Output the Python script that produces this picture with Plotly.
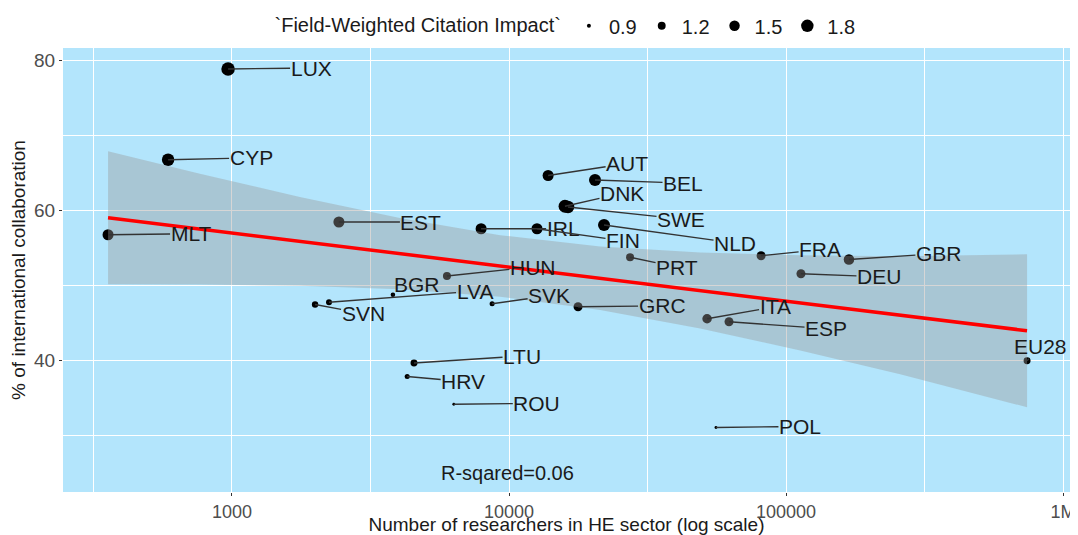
import numpy as np
import plotly.graph_objects as go

# ---------------- data ----------------
countries = ["LUX", "CYP", "MLT", "EST", "AUT", "BEL", "DNK", "SWE", "IRL", "FIN",
             "NLD", "PRT", "FRA", "GBR", "DEU", "ITA", "ESP", "EU28", "HUN", "BGR",
             "LVA", "SVN", "SVK", "GRC", "LTU", "HRV", "ROU", "POL"]
researchers = [968, 588, 357, 2432, 13840, 20440, 15920, 16330, 7930, 12620,
               22030, 27350, 81280, 168700, 113200, 51880, 62250, 741300, 5970, 3810,
               2240, 1995, 8690, 17750, 4540, 4290, 6320, 55850]
intl_collab = [78.9, 66.8, 56.8, 58.5, 64.7, 64.1, 60.6, 60.5, 57.6, 57.6,
               58.1, 53.8, 54.0, 53.5, 51.6, 45.6, 45.2, 40.0, 51.3, 48.8,
               47.8, 47.5, 47.6, 47.2, 39.7, 37.9, 34.2, 31.1]
fwci = [1.97, 1.80, 1.58, 1.58, 1.58, 1.73, 1.85, 1.80, 1.58, 1.58,
        1.73, 1.21, 1.32, 1.51, 1.32, 1.38, 1.32, 1.11, 1.21, 0.93,
        1.03, 1.06, 0.96, 1.32, 1.11, 0.96, 0.85, 0.85]

# linear fit (on log scale) and its confidence band
fit_x = [357, 766, 1758, 4036, 9290, 21330, 48980, 112500, 258200, 741300]
fit_y = [59.07, 57.56, 55.92, 54.28, 52.64, 51.00, 49.36, 47.72, 46.08, 44.00]
band_hi = [67.94, 64.95, 61.85, 59.04, 56.75, 55.23, 54.43, 54.07, 53.95, 54.20]
band_lo = [50.20, 50.17, 49.99, 49.52, 48.53, 46.77, 44.29, 41.37, 38.21, 33.80]

legend_levels = [0.9, 1.2, 1.5, 1.8]
x_tick_vals = [1000, 10000, 100000, 1000000]
x_tick_text = ["1000", "10000", "100000", "1M"]
y_tick_vals = [40, 60, 80]
r_squared_text = "R-sqared=0.06"

# ---------------- style / layout ----------------
PANEL_BG = "#B3E5FC"
FONT = "Liberation Sans, Arial, sans-serif"
LABEL_OFFSETS = {  # pixel offsets of repelled labels from their points
    "LUX": (83, -1), "CYP": (83, -2), "MLT": (83, -1), "EST": (82, 0),
    "AUT": (79, -12), "BEL": (88, 3), "DNK": (57, -13), "SWE": (113, 12),
    "IRL": (82, 0), "FIN": (86, 12), "NLD": (131, 18), "PRT": (47, 10),
    "FRA": (59, -6), "GBR": (90, -6), "DEU": (78, 3), "ITA": (68, -12),
    "ESP": (97, 7), "EU28": (13, -14), "HUN": (86, -9), "BGR": (24, -10),
    "LVA": (146, -11), "SVN": (48, 9), "SVK": (57, -8), "GRC": (84, -1),
    "LTU": (108, -7), "HRV": (56, 5), "ROU": (83, -1), "POL": (84, -1),
}
RSQ_POS = (9900, 25.1)
PAGE_OFFSET = 8  # default body margin of the html page


def size_px(f):
    """area-proportional size scale (like ggplot scale_size)"""
    f = np.asarray(f, dtype=float)
    return np.sqrt(np.clip(16 + 155 * (f - 0.9), 4, None))


fig = go.Figure()

# points (drawn first so the ribbon greys the ones beneath it)
fig.add_trace(go.Scatter(
    x=researchers, y=intl_collab, mode="markers",
    marker=dict(color="black", size=size_px(fwci), opacity=1, line=dict(width=0)),
    text=countries, showlegend=False, hoverinfo="text+x+y"))

# confidence ribbon
fig.add_trace(go.Scatter(
    x=fit_x + fit_x[::-1], y=band_hi + band_lo[::-1],
    mode="lines", fill="toself", fillcolor="rgba(153,153,153,0.4)",
    line=dict(width=0), showlegend=False, hoverinfo="skip"))

# regression line
fig.add_trace(go.Scatter(
    x=fit_x, y=fit_y, mode="lines",
    line=dict(color="#FF0000", width=3.5), showlegend=False, hoverinfo="skip"))

# size legend entries
for lv in legend_levels:
    fig.add_trace(go.Scatter(
        x=[None], y=[None], mode="markers", name=f"{lv}",
        marker=dict(color="black", size=float(size_px(lv)), opacity=1),
        showlegend=True))

# repelled labels with segments
for c, xv, yv in zip(countries, researchers, intl_collab):
    dx, dy = LABEL_OFFSETS[c]
    fig.add_annotation(
        x=np.log10(xv), y=yv, xref="x", yref="y", text=c,
        showarrow=True, ax=dx, ay=dy, arrowhead=0, arrowwidth=1.3,
        arrowcolor="#333333", standoff=0, startstandoff=0,
        font=dict(family=FONT, size=21, color="#1a1a1a"), borderpad=0)

fig.add_annotation(
    x=np.log10(RSQ_POS[0]), y=RSQ_POS[1], xref="x", yref="y",
    text=r_squared_text, showarrow=False,
    font=dict(family=FONT, size=20, color="#1a1a1a"))

fig.update_layout(
    width=1078 - PAGE_OFFSET, height=535 - PAGE_OFFSET,
    margin=dict(l=63 - PAGE_OFFSET, r=8, t=48 - PAGE_OFFSET, b=43, autoexpand=False),
    paper_bgcolor="white", plot_bgcolor=PANEL_BG,
    font=dict(family=FONT, size=19, color="#1a1a1a"),
    legend=dict(
        orientation="h", x=0.5, xanchor="center", y=1.05, yanchor="middle",
        title=dict(text="`Field-Weighted Citation Impact`", side="left",
                   font=dict(size=20, color="#1a1a1a")),
        font=dict(size=20, color="#1a1a1a"), itemsizing="trace",
        bgcolor="rgba(0,0,0,0)", itemwidth=30, tracegroupgap=0),
)

fig.update_xaxes(
    type="log", range=[2.39, 6.025], automargin=False,
    tickmode="array", tickvals=x_tick_vals, ticktext=x_tick_text,
    ticks="outside", ticklen=3, tickcolor="#333333", tickwidth=1,
    tickfont=dict(size=18, color="#4d4d4d"),
    showgrid=True, gridcolor="white", gridwidth=1.1, zeroline=False,
    showline=False,
    minor=dict(tickmode="array",
               tickvals=[10 ** 2.5, 10 ** 3.5, 10 ** 4.5, 10 ** 5.5],
               showgrid=True, gridcolor="white", gridwidth=0.55, ticks=""),
    title=dict(text="Number of researchers in HE sector (log scale)",
               font=dict(size=19, color="#1a1a1a"), standoff=0),
)
fig.update_yaxes(
    range=[22.5, 81.7], automargin=False,
    tickmode="array", tickvals=y_tick_vals,
    ticks="outside", ticklen=3, tickcolor="#333333", tickwidth=1,
    tickfont=dict(size=19, color="#4d4d4d"),
    showgrid=True, gridcolor="white", gridwidth=1.1, zeroline=False,
    showline=False,
    minor=dict(tickmode="array", tickvals=[30, 50, 70],
               showgrid=True, gridcolor="white", gridwidth=0.55, ticks=""),
    title=dict(text="% of international collaboration",
               font=dict(size=19, color="#1a1a1a"), standoff=4),
)

fig.write_html("out.html")
